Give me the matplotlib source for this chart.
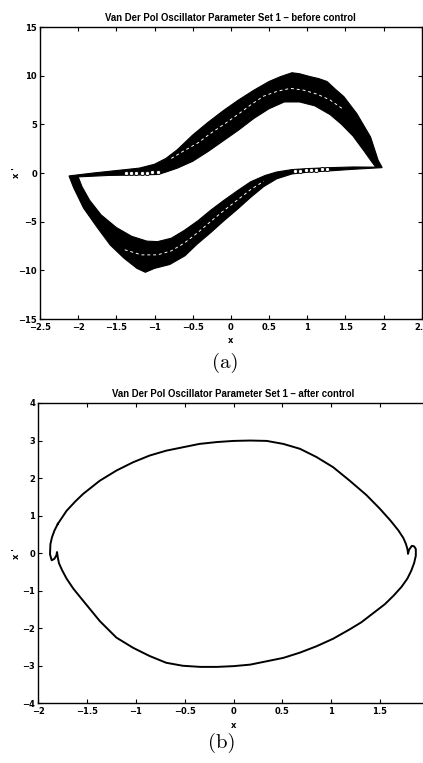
import matplotlib
matplotlib.use("Agg")
import matplotlib.pyplot as plt

# ---------------- data ----------------
# (a) before control: the dense band of trajectories
band_upper_outer_x = [-2.12, -1.8, -1.5, -1.2, -1.0, -0.85, -0.7, -0.5, -0.3, -0.1, 0.1, 0.3, 0.5, 0.65, 0.8, 0.9, 1.04, 1.15, 1.26, 1.37, 1.48, 1.65, 1.83, 1.93, 1.98]
band_upper_outer_y = [-0.3, 0.0, 0.25, 0.5, 0.9, 1.5, 2.4, 3.9, 5.2, 6.4, 7.5, 8.5, 9.4, 9.9, 10.3, 10.2, 9.9, 9.7, 9.4, 8.6, 7.85, 6.1, 3.7, 1.3, 0.6]
band_lower_outer_x = [1.98, 1.6, 1.3, 1.0, 0.8, 0.6, 0.43, 0.26, 0.09, -0.09, -0.26, -0.44, -0.6, -0.8, -1.0, -1.12, -1.23, -1.4, -1.58, -1.75, -1.93, -2.06, -2.12]
band_lower_outer_y = [0.55, 0.38, 0.22, 0.08, -0.1, -0.6, -1.4, -2.5, -3.7, -4.9, -6.1, -7.3, -8.5, -9.4, -9.8, -10.2, -9.8, -8.75, -7.4, -5.6, -3.6, -1.5, -0.3]
hole_upper_x = [-2.0, -1.6, -1.2, -0.95, -0.85, -0.7, -0.5, -0.3, -0.1, 0.1, 0.3, 0.5, 0.7, 0.9, 1.1, 1.3, 1.45, 1.6, 1.75, 1.85, 1.9]
hole_upper_y = [-0.4, -0.25, -0.2, -0.15, 0.1, 0.5, 1.2, 2.2, 3.3, 4.4, 5.6, 6.6, 7.3, 7.3, 6.9, 6.0, 5.0, 3.8, 2.2, 1.1, 0.6]
hole_lower_x = [1.6, 1.3, 1.0, 0.8, 0.6, 0.45, 0.26, 0.09, -0.09, -0.26, -0.43, -0.61, -0.78, -0.96, -1.1, -1.3, -1.5, -1.7, -1.85, -1.95, -2.0]
hole_lower_y = [0.62, 0.55, 0.45, 0.35, 0.1, -0.25, -0.9, -1.8, -2.8, -3.8, -4.9, -5.9, -6.7, -7.05, -7.0, -6.5, -5.6, -4.3, -2.8, -1.4, -0.4]
streak_upper_x = [-0.78, -0.61, -0.43, -0.26, -0.09, 0.09, 0.26, 0.43, 0.61, 0.78, 0.96, 1.13, 1.30, 1.48]
streak_upper_y = [1.5, 2.3, 3.1, 4.1, 5.0, 6.0, 7.0, 7.9, 8.4, 8.7, 8.5, 8.1, 7.5, 6.5]
streak_lower_x = [-1.39, -1.17, -0.96, -0.78, -0.61, -0.43, -0.26, -0.09, 0.09, 0.26, 0.43]
streak_lower_y = [-7.89, -8.41, -8.41, -8.0, -7.2, -6.1, -4.95, -3.85, -2.75, -1.7, -0.85]
loops_upper_x = [-1.38, -1.31, -1.24, -1.17, -1.10, -1.03, -0.96]
loops_upper_y = [0.0, 0.0, 0.0, 0.02, 0.05, 0.08, 0.1]
loops_lower_x = [0.84, 0.91, 0.98, 1.05, 1.12, 1.19, 1.26]
loops_lower_y = [0.22, 0.25, 0.28, 0.31, 0.34, 0.37, 0.40]

# (b) after control: the limit cycle
cycle_x = [-1.80, -1.71, -1.62, -1.54, -1.37, -1.20, -1.03, -0.86, -0.69, -0.52, -0.35, -0.17, 0.0, 0.17, 0.34, 0.51, 0.68, 0.85, 1.02, 1.19, 1.36, 1.50, 1.61, 1.69, 1.74,
           1.765, 1.78, 1.785, 1.787, 1.798, 1.826, 1.850, 1.867, 1.867, 1.850, 1.82, 1.78, 1.72, 1.64, 1.55, 1.43, 1.31, 1.19, 1.02, 0.85, 0.68, 0.51, 0.34, 0.17, 0.0,
           -0.17, -0.34, -0.52, -0.69, -0.86, -1.03, -1.20, -1.37, -1.54, -1.64, -1.71, -1.757, -1.788, -1.80, -1.808, -1.815, -1.835, -1.863, -1.880, -1.876, -1.86, -1.835, -1.80]
cycle_y = [0.78, 1.13, 1.38, 1.58, 1.93, 2.20, 2.42, 2.60, 2.73, 2.82, 2.91, 2.96, 2.99, 3.0, 2.99, 2.91, 2.78, 2.56, 2.29, 1.93, 1.55, 1.18, 0.86, 0.60, 0.40,
           0.25, 0.12, 0.04, -0.02, 0.09, 0.195, 0.18, 0.11, -0.07, -0.26, -0.47, -0.68, -0.90, -1.13, -1.36, -1.60, -1.84, -2.03, -2.28, -2.48, -2.65, -2.79, -2.88, -2.97, -3.01,
           -3.03, -3.03, -3.0, -2.92, -2.74, -2.52, -2.25, -1.81, -1.27, -0.95, -0.68, -0.45, -0.27, -0.12, 0.03, -0.06, -0.15, -0.19, -0.03, 0.24, 0.42, 0.60, 0.78]

xticks_a = [-2.5, -2, -1.5, -1, -0.5, 0, 0.5, 1, 1.5, 2, 2.5]
xticklabels_a = ["\u22122.5", "\u22122", "\u22121.5", "\u22121", "\u22120.5", "0", "0.5", "1", "1.5", "2", "2.5"]
yticks_a = [-15, -10, -5, 0, 5, 10, 15]
yticklabels_a = ["\u221215", "\u221210", "\u22125", "0", "5", "10", "15"]
xticks_b = [-2, -1.5, -1, -0.5, 0, 0.5, 1, 1.5]
xticklabels_b = ["\u22122", "\u22121.5", "\u22121", "\u22120.5", "0", "0.5", "1", "1.5"]
yticks_b = [-4, -3, -2, -1, 0, 1, 2, 3, 4]
yticklabels_b = ["\u22124", "\u22123", "\u22122", "\u22121", "0", "1", "2", "3", "4"]

title_a = "Van Der Pol Oscillator Parameter Set 1 \u2013 before control"
title_b = "Van Der Pol Oscillator Parameter Set 1 \u2013 after control"

# ---------------- figure ----------------
W, H = 423, 763
fig = plt.figure(figsize=(W / 100, H / 100), dpi=100)
ax1 = fig.add_axes([40 / W, 1 - 319 / H, 381.7 / W, 292 / H])
ax2 = fig.add_axes([38.3 / W, 1 - 703.3 / H, 390.5 / W, 300.3 / H])

tickfont = dict(family="DejaVu Sans", weight="bold", size=6)
titlefont = dict(family="Liberation Sans", weight="bold", size=6.9)


def style(ax, xt, xtl, yt, ytl, xlim, ylim, title, ylx):
    ax.set_xlim(*xlim)
    ax.set_ylim(*ylim)
    ax.set_xticks(xt)
    ax.set_xticklabels(xtl, fontdict=tickfont)
    ax.set_yticks(yt)
    ax.set_yticklabels(ytl, fontdict=tickfont)
    ax.tick_params(direction="in", top=True, right=True, length=3, width=0.8, pad=3)
    ax.tick_params(axis="y", pad=2.2)
    for s in ax.spines.values():
        s.set_linewidth(1.0)
    ax.set_title(title, fontdict=titlefont, pad=4)
    ax.set_xlabel("x", fontdict=dict(family="DejaVu Sans", weight="bold", size=6))
    ax.set_ylabel("x '", fontdict=dict(family="DejaVu Sans", weight="bold", size=6))
    ax.xaxis.set_label_coords(0.5, -0.058)
    ax.yaxis.set_label_coords(ylx, 0.5)


# (a)
ax1.fill(band_upper_outer_x + band_lower_outer_x, band_upper_outer_y + band_lower_outer_y,
         facecolor="black", edgecolor="black", lw=0.8, zorder=2)
ax1.fill(hole_upper_x + hole_lower_x, hole_upper_y + hole_lower_y,
         facecolor="white", edgecolor="black", lw=0.8, zorder=3)
ax1.plot(streak_upper_x, streak_upper_y, color="white", lw=0.7, dashes=(3, 3), zorder=4)
ax1.plot(streak_lower_x, streak_lower_y, color="white", lw=0.7, dashes=(3, 3), zorder=4)
ax1.plot(loops_upper_x, loops_upper_y, ls="none", marker="o", ms=3, mfc="white", mec="black", mew=0.6, zorder=4)
ax1.plot(loops_lower_x, loops_lower_y, ls="none", marker="o", ms=3, mfc="white", mec="black", mew=0.6, zorder=4)
style(ax1, xticks_a, xticklabels_a, yticks_a, yticklabels_a, (-2.5, 2.5), (-15, 15), title_a, -0.05)

# (b)
ax2.plot(cycle_x, cycle_y, color="black", lw=1.4, solid_joinstyle="round")
style(ax2, xticks_b, xticklabels_b, yticks_b, yticklabels_b, (-2, 2), (-4, 4), title_b, -0.045)

fig.text(225 / W, 1 - 363 / H, "(a)", ha="center", va="center", fontsize=15, family="cmr10")
fig.text(222 / W, 1 - 743 / H, "(b)", ha="center", va="center", fontsize=15, family="cmr10")

fig.savefig("out.png", dpi=100)
